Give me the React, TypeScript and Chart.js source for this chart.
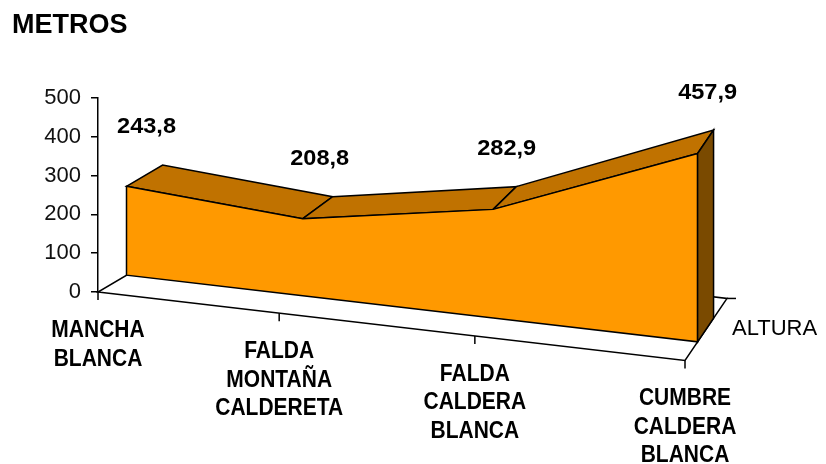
import React, { useEffect, useRef } from "react";
import { Chart, registerables } from "chart.js";

Chart.register(...registerables);

// ---- data ----
const TITLE = "METROS";
const SERIES_NAME = "ALTURA";
const CATEGORIES: string[][] = [
  ["MANCHA", "BLANCA"],
  ["FALDA", "MONTAÑA", "CALDERETA"],
  ["FALDA", "CALDERA", "BLANCA"],
  ["CUMBRE", "CALDERA", "BLANCA"],
];
const ALTURA = [243.8, 208.8, 282.9, 457.9];
const Y_MIN = 0;
const Y_MAX = 500;
const Y_STEP = 100;

// ---- styling / projection (3-D look of the Excel area chart) ----
const FONT = "'Liberation Sans', Arial, sans-serif";
const FRONT_COLOR = "#FF9900";
const TOP_COLOR = "#C07200";
const SIDE_COLOR = "#7A4A00";
const LINE_COLOR = "#000000";
const FLOOR_SLOPE = 0.1166; // floor front edge descends to the right
const WARP_B = 0.111; // perspective spacing along the category axis
const DEPTH_LEFT = [95, -56];
const DEPTH_RIGHT = [42, -62];
const Z_FRONT = 0.3;
const Z_BACK = 0.68;
const GAIN_LEFT = 0.94;
const GAIN_RIGHT = 1.06;

type Pt = { x: number; y: number };

function project(chart: any, idx: number, z: number, v: number): Pt {
  const xs = chart.scales.x;
  const ys = chart.scales.y;
  const ca = chart.chartArea;
  const L = ca.left;
  const W = ca.right - ca.left;
  const tl = (xs.getPixelForValue(idx) - L) / W;
  const t = tl * (1 - WARP_B + WARP_B * tl);
  const xf = L + W * t;
  const y0 = ys.getPixelForValue(0);
  const yf = y0 + FLOOR_SLOPE * (xf - L);
  const dx = DEPTH_LEFT[0] + (DEPTH_RIGHT[0] - DEPTH_LEFT[0]) * t;
  const dy = DEPTH_LEFT[1] + (DEPTH_RIGHT[1] - DEPTH_LEFT[1]) * t;
  const gain = GAIN_LEFT + (GAIN_RIGHT - GAIN_LEFT) * t * t;
  const h = (y0 - ys.getPixelForValue(v)) * gain;
  return { x: xf + z * dx, y: yf + z * dy - h };
}

function poly(ctx: CanvasRenderingContext2D, pts: Pt[], fill?: string) {
  ctx.beginPath();
  ctx.moveTo(pts[0].x, pts[0].y);
  for (let i = 1; i < pts.length; i++) ctx.lineTo(pts[i].x, pts[i].y);
  ctx.closePath();
  if (fill) {
    ctx.fillStyle = fill;
    ctx.fill();
  }
  ctx.stroke();
}

const area3dPlugin = {
  id: "area3d",
  beforeDatasetsDraw(chart: any) {
    const ctx: CanvasRenderingContext2D = chart.ctx;
    const data: number[] = chart.data.datasets[0].data;
    const n = data.length;
    ctx.save();
    ctx.lineWidth = 1.5;
    ctx.strokeStyle = LINE_COLOR;
    ctx.lineJoin = "miter";

    // floor
    const fl = project(chart, 0, 0, 0);
    const fr = project(chart, n - 1, 0, 0);
    const bl = project(chart, 0, 1, 0);
    const br = project(chart, n - 1, 1, 0);
    poly(ctx, [fl, fr, br, bl]);
    // category ticks on floor front edge
    for (let i = 0; i < n; i++) {
      const p = project(chart, i, 0, 0);
      ctx.beginPath();
      ctx.moveTo(p.x, p.y);
      ctx.lineTo(p.x, p.y + 8);
      ctx.stroke();
    }
    // series tick at back-right
    ctx.beginPath();
    ctx.moveTo(br.x, br.y);
    ctx.lineTo(br.x + 9, br.y);
    ctx.stroke();

    // area: top faces
    const F = data.map((v, i) => project(chart, i, Z_FRONT, v));
    const B = data.map((v, i) => project(chart, i, Z_BACK, v));
    const Fb = data.map((_, i) => project(chart, i, Z_FRONT, 0));
    const Bb = project(chart, n - 1, Z_BACK, 0);
    for (let i = 0; i < n - 1; i++) {
      poly(ctx, [F[i], F[i + 1], B[i + 1], B[i]], TOP_COLOR);
    }
    // front face
    poly(ctx, [...F, ...Fb.slice().reverse()], FRONT_COLOR);
    // right side face
    poly(ctx, [F[n - 1], B[n - 1], Bb, Fb[n - 1]], SIDE_COLOR);

    // value labels
    ctx.fillStyle = "#000";
    ctx.textAlign = "center";
    ctx.textBaseline = "alphabetic";
    ctx.font = `bold 22px ${FONT}`;
    data.forEach((v, i) => {
      const m = project(chart, i, (Z_FRONT + Z_BACK) / 2, v);
      ctx.save();
      ctx.translate(m.x + 2, m.y - 43);
      ctx.scale(1.07, 1);
      ctx.fillText(v.toFixed(1).replace(".", ","), 0, 0);
      ctx.restore();
    });

    // category labels
    ctx.font = `bold 21px ${FONT}`;
    const labels: string[][] = chart.data.labels;
    labels.forEach((lines, i) => {
      const p = project(chart, i, 0, 0);
      lines.forEach((s, k) => {
        ctx.save();
        ctx.translate(p.x, p.y + 45 + 28.5 * k);
        ctx.scale(1, 1.1);
        ctx.fillText(s, 0, 0);
        ctx.restore();
      });
    });

    // series name
    ctx.textAlign = "left";
    ctx.textBaseline = "middle";
    ctx.font = `22px ${FONT}`;
    ctx.fillText(chart.data.datasets[0].label, br.x + 5, br.y + 30);

    // title
    ctx.textBaseline = "alphabetic";
    ctx.font = `bold 27px ${FONT}`;
    ctx.fillText(TITLE, 12, 33);
    ctx.restore();
  },
};

export default function App() {
  const ref = useRef<HTMLCanvasElement | null>(null);
  useEffect(() => {
    if (!ref.current) return;
    const chart = new Chart(ref.current, {
      type: "line",
      data: {
        labels: CATEGORIES as any,
        datasets: [
          {
            label: SERIES_NAME,
            data: ALTURA,
            showLine: false,
            pointRadius: 0,
            borderColor: "transparent",
            backgroundColor: "transparent",
          },
        ],
      },
      options: {
        responsive: false,
        animation: false,
        events: [],
        layout: { padding: { left: 0, right: 141, top: 98, bottom: 172 } },
        plugins: {
          legend: { display: false },
          tooltip: { enabled: false },
          title: { display: false },
        },
        scales: {
          x: { type: "category", display: false, offset: false },
          y: {
            min: Y_MIN,
            max: Y_MAX,
            afterFit: (s: any) => {
              s.width = 98;
            },
            ticks: {
              stepSize: Y_STEP,
              color: "#111",
              padding: 10,
              font: { family: FONT, size: 22 },
            },
            grid: {
              display: true,
              drawOnChartArea: false,
              drawTicks: true,
              tickLength: 7,
              color: "#000",
              lineWidth: 1.5,
            },
            border: { display: true, color: "#000", width: 1.5 },
          },
        },
      },
      plugins: [area3dPlugin],
    });
    return () => chart.destroy();
  }, []);
  return (
    <div style={{ position: "fixed", left: 0, top: 0, width: 826, height: 464, background: "#fff" }}>
      <canvas ref={ref} width={826} height={464} />
    </div>
  );
}
